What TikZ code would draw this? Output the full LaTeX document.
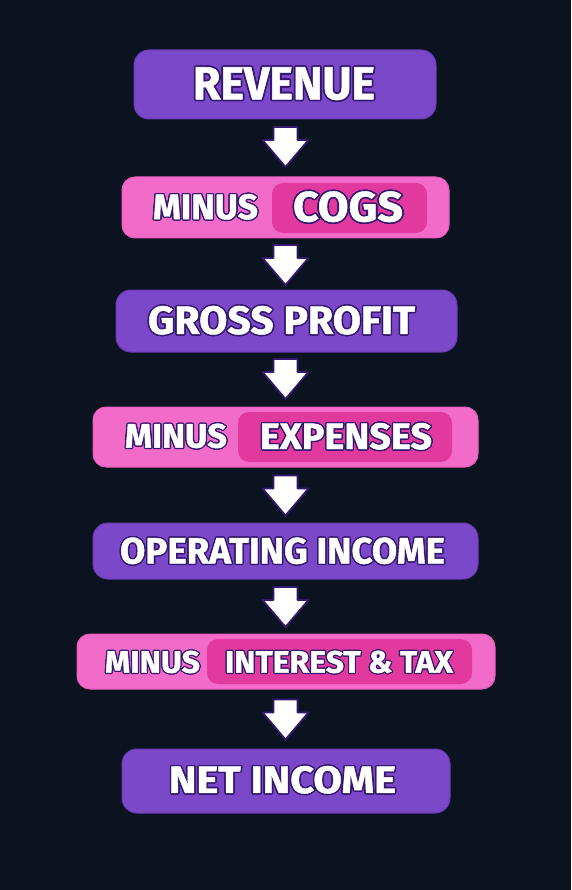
\documentclass[tikz,border=0pt]{standalone}
\usepackage{fontspec}
\setmainfont{Fira Sans}[BoldFeatures={FakeBold=1.2}]
\usepackage{graphicx}
\usepackage{contour}
\contourlength{1.1pt}
\usetikzlibrary{calc}
\definecolor{bg}{HTML}{0B1220}
\definecolor{purp}{HTML}{7A48C8}
\definecolor{purpedge}{HTML}{6A3BB4}
\definecolor{pinkout}{HTML}{F26BC9}
\definecolor{pinkedge}{HTML}{E65CBB}
\definecolor{pinkin}{HTML}{E2399F}
\definecolor{outl}{HTML}{35186F}
\newcommand\fitlbl[3]{\resizebox{#1}{#2}{\contour{outl}{\textcolor{white}{\bfseries #3}}}}
\tikzset{
  purpbox/.style={rectangle, rounded corners=15pt, fill=purp, draw=purpedge, line width=1pt, inner sep=0pt},
  pinkbox/.style={rectangle, rounded corners=13pt, fill=pinkout, draw=pinkedge, line width=1pt, inner sep=0pt},
  innerbox/.style={rectangle, rounded corners=11pt, fill=pinkin, inner sep=0pt},
  lbl/.style={inner sep=0pt, font=\fontsize{30}{36}\selectfont},
  pics/downarrow/.style={code={
    \draw[fill=white, draw=outl, line width=1.8pt, line join=round]
      (-12,-20) -- (12,-20) -- (12,-7) -- (23,-7) -- (0,20) -- (-23,-7) -- (-12,-7) -- cycle;
  }}
}
\begin{document}
\begin{tikzpicture}[x=1pt, y=-1pt]
\fill[bg] (0,0) rectangle (571,890);
\useasboundingbox (0,0) rectangle (571,890);

% boxes
\node[purpbox, minimum width=302pt, minimum height=69pt] (rev) at (285,84.5) {};
\node[lbl] (revt) at (284,84.5) {\fitlbl{182pt}{32pt}{REVENUE}};

\node[pinkbox, minimum width=327pt, minimum height=61pt] (cogs) at (285.5,207.5) {};
\node[innerbox, minimum width=155pt, minimum height=50pt] (cogsin) at (349.5,208) {};
\node[lbl] (cogsm) at (205.5,207.5) {\fitlbl{105pt}{25pt}{MINUS}};
\node[lbl] (cogst) at (348,207.5) {\fitlbl{110pt}{30pt}{COGS}};

\node[purpbox, minimum width=341pt, minimum height=62pt] (gross) at (286.5,321) {};
\node[lbl] (grosst) at (281.5,321) {\fitlbl{267pt}{28pt}{GROSS PROFIT}};

\node[pinkbox, minimum width=385pt, minimum height=60pt] (exp) at (285.5,437) {};
\node[innerbox, minimum width=214pt, minimum height=50pt] (expin) at (345,437) {};
\node[lbl] (expm) at (176,436.5) {\fitlbl{102pt}{24pt}{MINUS}};
\node[lbl] (expt) at (346,437) {\fitlbl{172pt}{26pt}{EXPENSES}};

\node[purpbox, minimum width=385pt, minimum height=56pt] (oper) at (285.5,551) {};
\node[lbl] (opert) at (282.5,551.5) {\fitlbl{325pt}{26pt}{OPERATING INCOME}};

\node[pinkbox, minimum width=418pt, minimum height=55pt] (int) at (286,661.5) {};
\node[innerbox, minimum width=265pt, minimum height=45pt] (intin) at (339.5,661.5) {};
\node[lbl] (intm) at (152.5,662.5) {\fitlbl{95pt}{22pt}{MINUS}};
\node[lbl] (intt) at (339,662.5) {\fitlbl{228pt}{22pt}{INTEREST \& TAX}};

\node[purpbox, minimum width=328pt, minimum height=64pt] (net) at (286,781) {};
\node[lbl] (nett) at (282.5,780.5) {\fitlbl{227pt}{27pt}{NET INCOME}};

% arrows between boxes
\coordinate (a1) at (285.5,147);
\coordinate (a2) at (285.5,265);
\coordinate (a3) at (285.5,379);
\coordinate (a4) at (285.5,495.5);
\coordinate (a5) at (285.5,607);
\coordinate (a6) at (285.5,719.5);
\foreach \c in {a1,a2,a3,a4,a5,a6} { \pic at (\c) {downarrow}; }
\end{tikzpicture}
\end{document}
